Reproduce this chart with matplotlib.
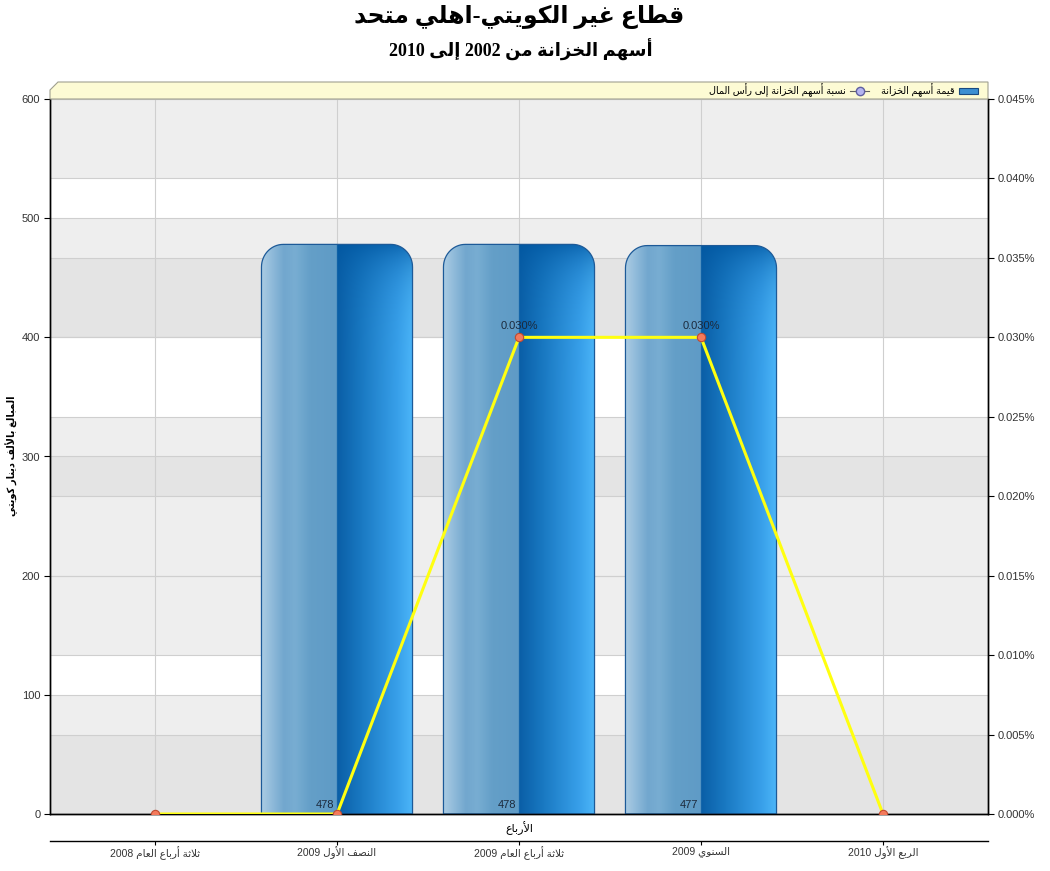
import re
import numpy as np
import matplotlib
matplotlib.use('Agg')
import matplotlib.pyplot as plt
from matplotlib.patches import Polygon
from matplotlib.lines import Line2D
from matplotlib.patches import Patch

plt.rcParams['font.family'] = ['Liberation Sans', 'DejaVu Sans']

# ---- data ----
categories = ['ثلاثة أرباع العام 2008', 'النصف الأول 2009', 'ثلاثة أرباع العام 2009',
              'السنوي 2009', 'الربع الأول 2010']
treasury_value = [0, 478, 478, 477, 0]          # الف دينار
treasury_pct = [0.000, 0.000, 0.030, 0.030, 0.000]  # %
y_ticks = [0, 100, 200, 300, 400, 500, 600]
pct_ticks = [0.000, 0.005, 0.010, 0.015, 0.020, 0.025, 0.030, 0.035, 0.040, 0.045]

title = 'قطاع غير الكويتي-اهلي متحد'
subtitle = 'أسهم الخزانة من 2002 إلى 2010'
y_label = 'المبالغ بالألف دينار كويتي'
x_label = 'الأرباع'
bar_name = 'قيمة أسهم الخزانة'
line_name = 'نسبة أسهم الخزانة إلى رأس المال'

# ---- arabic shaping (no reshaper lib available) ----
FORMS = {
    'ء': (0xFE80, 1), 'آ': (0xFE81, 2), 'أ': (0xFE83, 2), 'ؤ': (0xFE85, 2),
    'إ': (0xFE87, 2), 'ئ': (0xFE89, 4), 'ا': (0xFE8D, 2), 'ب': (0xFE8F, 4),
    'ة': (0xFE93, 2), 'ت': (0xFE95, 4), 'ث': (0xFE99, 4), 'ج': (0xFE9D, 4),
    'ح': (0xFEA1, 4), 'خ': (0xFEA5, 4), 'د': (0xFEA9, 2), 'ذ': (0xFEAB, 2),
    'ر': (0xFEAD, 2), 'ز': (0xFEAF, 2), 'س': (0xFEB1, 4), 'ش': (0xFEB5, 4),
    'ص': (0xFEB9, 4), 'ض': (0xFEBD, 4), 'ط': (0xFEC1, 4), 'ظ': (0xFEC5, 4),
    'ع': (0xFEC9, 4), 'غ': (0xFECD, 4), 'ف': (0xFED1, 4), 'ق': (0xFED5, 4),
    'ك': (0xFED9, 4), 'ل': (0xFEDD, 4), 'م': (0xFEE1, 4), 'ن': (0xFEE5, 4),
    'ه': (0xFEE9, 4), 'و': (0xFEED, 2), 'ى': (0xFEEF, 2), 'ي': (0xFEF1, 4),
}
LAM_ALEF = {'آ': 0xFEF5, 'أ': 0xFEF7, 'إ': 0xFEF9, 'ا': 0xFEFB}


def ar(s):
    units = []
    i = 0
    while i < len(s):
        c = s[i]
        if c == 'ل' and i + 1 < len(s) and s[i + 1] in LAM_ALEF:
            units.append(('LA', 2, LAM_ALEF[s[i + 1]]))
            i += 2
            continue
        if c in FORMS:
            units.append((c, FORMS[c][1], FORMS[c][0]))
        else:
            units.append((c, 0, None))
        i += 1
    out = []
    for j, (c, n, start) in enumerate(units):
        if n == 0:
            out.append(c)
            continue
        prev_j = j > 0 and units[j - 1][1] == 4
        next_j = n == 4 and j + 1 < len(units) and units[j + 1][1] > 0
        if n == 1:
            f = 0
        elif prev_j and next_j:
            f = 3
        elif prev_j:
            f = 1
        elif next_j:
            f = 2
        else:
            f = 0
        out.append(chr(start + f))
    shaped = ''.join(out)
    toks = re.findall(r'[0-9A-Za-z.%]+|[^0-9A-Za-z.%]+', shaped)
    toks = [t if re.match(r'[0-9A-Za-z.%]', t) else t[::-1] for t in toks]
    return ''.join(toks[::-1])


# ---- figure ----
W, H = 1050, 871
fig = plt.figure(figsize=(W / 100, H / 100), dpi=100)
fig.patch.set_facecolor('white')
L, R, T, B = 50, 988, 99, 814
ax = fig.add_axes([L / W, 1 - B / H, (R - L) / W, (B - T) / H])
ax2 = ax.twinx()

x = np.arange(len(categories))
ax.set_xlim(-0.577, len(categories) - 1 + 0.577)
ax.set_ylim(y_ticks[0], y_ticks[-1])
ax2.set_ylim(pct_ticks[0], pct_ticks[-1])
k = y_ticks[-1] / pct_ticks[-1]  # right axis -> left axis units

# background bands: alternate bands of both axes overlap
right_in_left = [p * k for p in pct_ticks]
edges = sorted(set(y_ticks) | set(round(v, 6) for v in right_in_left))
shade = ['white', '#eeeeee', '#e4e4e4']
for a, b in zip(edges[:-1], edges[1:]):
    mid = (a + b) / 2
    n = int(np.searchsorted(y_ticks, mid) - 1) % 2 == 0
    m = int(np.searchsorted(right_in_left, mid) - 1) % 2 == 0
    ax.axhspan(a, b, color=shade[int(n) + int(m)], lw=0, zorder=0)
for v in y_ticks:
    ax.axhline(v, color='#cfcfcf', lw=0.8, zorder=0.5)
for v in right_in_left:
    ax.axhline(v, color='#cfcfcf', lw=0.8, zorder=0.5)
for xi in x:
    ax.axvline(xi, color='#cfcfcf', lw=0.8, zorder=0.5)


def hex2rgb(h):
    return np.array([int(h[i:i + 2], 16) / 255 for i in (1, 3, 5)])


def ramp(t, stops):
    pos = [p for p, _ in stops]
    cols = np.array([hex2rgb(c) for _, c in stops])
    return np.stack([np.interp(t, pos, cols[:, j]) for j in range(3)], axis=-1)


# bars: rounded top, glossy gradient
bw = 0.83
rx, ry = 0.12, 19.0
nx, ny = 240, 300
t = np.linspace(0, 1, nx)
left_cols = ramp(t * 2, [(0, '#abcce4'), (0.3, '#72a7ce'), (0.45, '#78add2'), (0.65, '#649fc8'), (1, '#5f9bc6')])
right_cols = ramp((t - 0.5) * 2, [(0, '#0a5ea6'), (0.3, '#1877c0'), (0.8, '#38a0ea'), (1, '#4cb6f9')])
row = np.where((t < 0.5)[:, None], left_cols, right_cols)
for xi, h in zip(x, treasury_value):
    if h <= 0:
        continue
    x0, x1 = xi - bw / 2, xi + bw / 2
    yy = np.linspace(0, h, ny)
    img = np.repeat(row[None, :, :], ny, axis=0)
    w = np.exp(-(h - yy) / 24.0)[:, None] * (t >= 0.5)[None, :]
    img = img * (1 - 0.75 * w[..., None]) + hex2rgb('#0056a0') * 0.75 * w[..., None]
    verts = [(x0, 0), (x0, h - ry)]
    for a in np.linspace(np.pi, np.pi / 2, 16):
        verts.append((x0 + rx + rx * np.cos(a), h - ry + ry * np.sin(a)))
    for a in np.linspace(np.pi / 2, 0, 16):
        verts.append((x1 - rx + rx * np.cos(a), h - ry + ry * np.sin(a)))
    verts.append((x1, 0))
    shape = Polygon(verts, closed=True, facecolor='none', edgecolor='#1d5a98', lw=0.9, zorder=3)
    ax.add_patch(shape)
    im = ax.imshow(img, extent=(x0, x1, 0, h), origin='lower', aspect='auto',
                   interpolation='bilinear', zorder=2)
    im.set_clip_path(shape)
    ax.annotate(str(h), xy=(xi, 0), xytext=(-3, 9), textcoords='offset pixels',
                ha='right', va='center', fontsize=8, color='#1c2a3c', zorder=4)

ax.set_xlim(-0.577, len(categories) - 1 + 0.577)
ax.set_ylim(y_ticks[0], y_ticks[-1])

# line series on the percent axis
ax2.plot(x, treasury_pct, color='#ffff10', lw=2.2, marker='o', ms=6,
         mfc='#f47a5c', mec='#c04a30', mew=0.8, zorder=5)
for xi, p in zip(x, treasury_pct):
    if p > 0:
        ax2.annotate(f'{p:.3f}%', xy=(xi, p), xytext=(0, 6), textcoords='offset pixels',
                     ha='center', va='bottom', fontsize=8, color='#1c2a3c')

# axes styling
ax.set_yticks(y_ticks)
ax.set_yticklabels([str(v) for v in y_ticks])
ax2.set_yticks(pct_ticks)
ax2.set_yticklabels([f'{v:.3f}%' for v in pct_ticks])
ax.set_xticks(x)
ax.tick_params(axis='x', length=0, labelbottom=False)
ax.tick_params(axis='y', length=4, width=0.8, labelsize=8, labelcolor='#333333', pad=3)
ax2.tick_params(axis='y', length=4, width=0.8, labelsize=8, labelcolor='#333333', pad=3)
for a in (ax, ax2):
    a.spines['top'].set_visible(False)
    for s in ('left', 'right', 'bottom'):
        a.spines[s].set_color('black')
        a.spines[s].set_linewidth(1.0)

sec = ax.secondary_xaxis(-27 / (B - T))
sec.set_xticks(x)
sec.set_xticklabels([ar(c) for c in categories])
sec.tick_params(axis='x', length=3, width=0.8, labelsize=7.5, labelcolor='#333333', pad=1)
sec.spines['bottom'].set_linewidth(1.0)

fig.text((L + R) / 2 / W, 1 - 828 / H, ar(x_label), ha='center', va='center', fontsize=8)
fig.text(12 / W, 1 - 456 / H, ar(y_label), rotation=90, ha='center', va='center',
         fontsize=7, fontweight='bold')

# titles
fig.text(519 / W, 1 - 17 / H, ar(title), ha='center', va='center', fontsize=17,
         fontweight='bold', family=['Liberation Serif', 'DejaVu Sans'])
fig.text(521 / W, 1 - 50 / H, ar(subtitle), ha='center', va='center', fontsize=13,
         fontweight='bold', family=['Liberation Serif', 'DejaVu Sans'])

# legend band across the top of the plot area
band = [(L, T), (L, 90), (L + 8, 82), (R, 82), (R, T)]
band = [(px / W, 1 - py / H) for px, py in band]
fig.patches.append(Polygon(band, closed=True, transform=fig.transFigure,
                           facecolor='#fdfbd4', edgecolor='#a0a090', lw=0.8, zorder=1))
handles = [Line2D([], [], color='#606060', lw=0.8, marker='o', ms=6, mfc='#b4b4f0', mec='#6060a0'),
           Patch(facecolor='#3c8fd2', edgecolor='#1a4a80', lw=0.8)]
fig.legend(handles, [ar(line_name), ar(bar_name)], loc='center right',
           bbox_to_anchor=(978 / W, 1 - 90.5 / H), ncol=2, frameon=False, fontsize=7,
           markerfirst=False, handlelength=2.0, handleheight=0.6, handletextpad=0.4,
           columnspacing=1.2, borderaxespad=0, borderpad=0)

fig.savefig('out.png', dpi=100)
